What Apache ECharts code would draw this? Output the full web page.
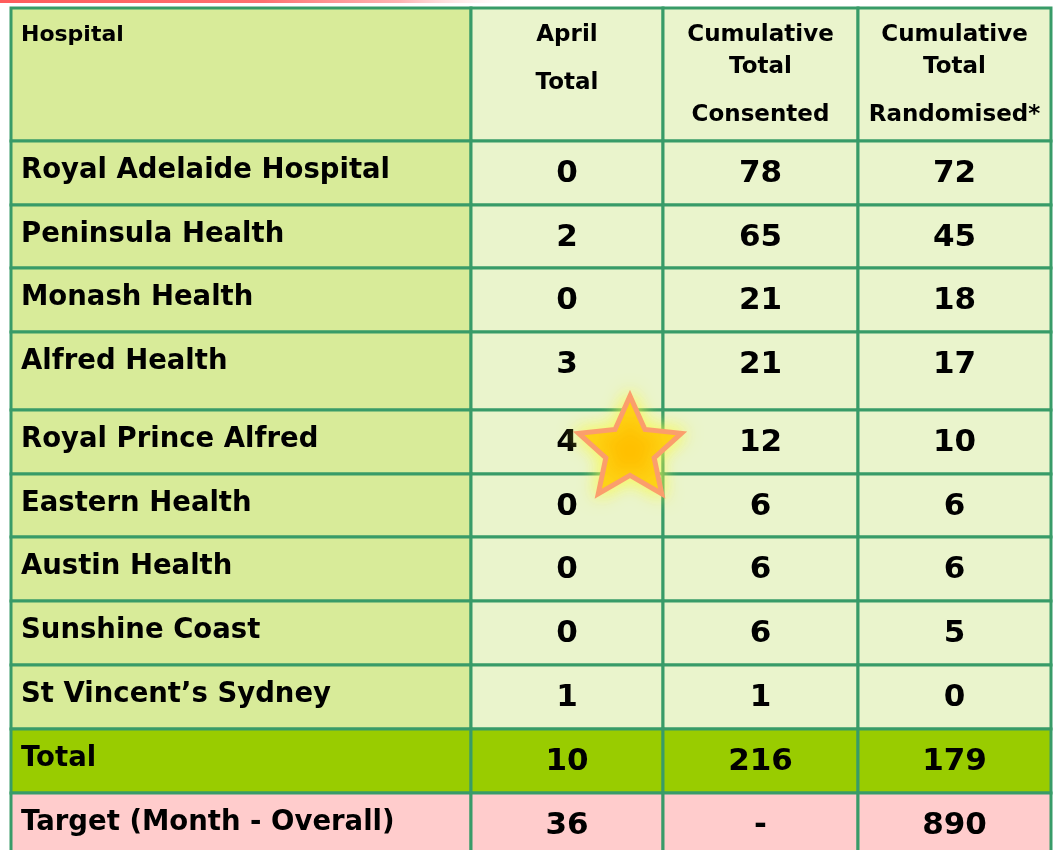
<!DOCTYPE html>
<html>
<head>
<meta charset="utf-8">
<script src="https://cdn.jsdelivr.net/npm/echarts@6/dist/echarts.min.js"></script>
<style>
  html, body { margin: 0; padding: 0; background: #fff; }
  #main { width: 1054px; height: 850px; }
</style>
</head>
<body>
<div id="main"></div>
<script>
// table data
var headers = ['Hospital', 'April\n\n\nTotal', 'Cumulative\n\nTotal\n\n\nConsented', 'Cumulative\n\nTotal\n\n\nRandomised*'];
var hospitals = ['Royal Adelaide Hospital', 'Peninsula Health', 'Monash Health', 'Alfred Health',
    'Royal Prince Alfred', 'Eastern Health', 'Austin Health', 'Sunshine Coast', 'St Vincent\u2019s Sydney'];
var aprilTotal = [0, 2, 0, 3, 4, 0, 0, 0, 1];
var cumConsented = [78, 65, 21, 21, 12, 6, 6, 6, 1];
var cumRandomised = [72, 45, 18, 17, 10, 6, 6, 5, 0];
var totalRow = ['Total', 10, 216, 179];
var targetRow = ['Target (Month - Overall)', 36, '-', 890];
var starCell = [1, 'Royal Prince Alfred'];

// layout (pixels of table space)
var colEdges = [0, 460, 652, 847, 1040];
var rowEdges = [0, 133, 197, 260, 324, 402, 466, 529, 593, 657, 721, 785, 849];
var FONT = 'DejaVu Sans';
var LINE = 16;

var fills = {
    head0: '#d8eb99', head: '#eaf4cc',
    body0: '#d8eb99', body: '#eaf4cc',
    total: '#99cc00', target: '#ffcccc'
};

var cells = [];
headers.forEach(function (h, c) {
    cells.push([c, 0, h, c === 0 ? 'head0' : 'head']);
});
hospitals.forEach(function (name, i) {
    var r = i + 1;
    cells.push([0, r, name, 'body0']);
    cells.push([1, r, String(aprilTotal[i]), 'body']);
    cells.push([2, r, String(cumConsented[i]), 'body']);
    cells.push([3, r, String(cumRandomised[i]), 'body']);
});
[totalRow, targetRow].forEach(function (row, k) {
    var r = hospitals.length + 1 + k;
    row.forEach(function (v, c) {
        cells.push([c, r, String(v), k === 0 ? 'total' : 'target']);
    });
});

function renderCell(params, api) {
    var c = api.value(0), r = api.value(1);
    var item = cells[params.dataIndex];
    var p0 = api.coord([colEdges[c], rowEdges[r]]);
    var p1 = api.coord([colEdges[c + 1], rowEdges[r + 1]]);
    var x = p0[0], y = p0[1], w = p1[0] - p0[0], h = p1[1] - p0[1];
    var kind = item[3];
    var children = [{
        type: 'rect',
        shape: { x: x, y: y, width: w, height: h },
        style: { fill: fills[kind], stroke: '#389b68', lineWidth: 3 }
    }];
    if (r === 0) {
        item[2].split('\n').forEach(function (line, k) {
            if (!line) return;
            children.push({
                type: 'text',
                style: {
                    text: line,
                    x: c === 0 ? x + 10 : x + w / 2,
                    y: y + 27 + k * LINE,
                    align: c === 0 ? 'left' : 'center',
                    verticalAlign: 'middle',
                    font: (c === 0 ? 'bold 22px "' : 'bold 23px "') + FONT + '"',
                    fill: '#000'
                }
            });
        });
    } else {
        children.push({
            type: 'text',
            style: {
                text: item[2],
                x: c === 0 ? x + 10 : x + w / 2,
                y: c === 0 ? y + 30 : y + 33,
                align: c === 0 ? 'left' : 'center',
                verticalAlign: 'middle',
                font: c === 0 ? 'bold 27.5px "' + FONT + '"' : 'bold 31px "' + FONT + '"',
                fill: '#000'
            }
        });
    }
    return { type: 'group', children: children };
}

function renderStar(params, api) {
    var r = hospitals.indexOf(starCell[1]) + 1;
    var p = api.coord([colEdges[starCell[0] + 1], rowEdges[r]]);
    var cx = p[0] - 33, cy = p[1] + 40, R = 54, ri = R * 0.47;
    var pts = [];
    for (var k = 0; k < 10; k++) {
        var a = -Math.PI / 2 + k * Math.PI / 5;
        var rad = k % 2 === 0 ? R : ri;
        pts.push([cx + rad * Math.cos(a), cy + rad * Math.sin(a)]);
    }
    return {
        type: 'polygon',
        shape: { points: pts },
        style: {
            fill: '#ffc000', stroke: '#fb9e6c', lineWidth: 5, lineJoin: 'miter',
            shadowBlur: 18, shadowColor: 'rgba(250,250,70,0.95)'
        }
    };
}

var myChart = echarts.init(document.getElementById('main'));
var option = {
    animation: false,
    backgroundColor: '#ffffff',
    graphic: [{
        type: 'rect',
        left: 0, top: 0,
        shape: { width: 1054, height: 3 },
        style: {
            fill: new echarts.graphic.LinearGradient(0, 0, 1, 0, [
                { offset: 0, color: '#ff5c5c' },
                { offset: 0.25, color: '#ff7070' },
                { offset: 0.38, color: 'rgba(255,160,160,0.8)' },
                { offset: 0.5, color: 'rgba(255,255,255,0)' },
                { offset: 1, color: 'rgba(255,255,255,0)' }
            ])
        }
    }],
    grid: { left: 11, top: 8, right: 3, bottom: 0 },
    xAxis: { type: 'value', min: 0, max: 1040, show: false },
    yAxis: { type: 'value', min: 0, max: 842, inverse: true, show: false },
    series: [{
        type: 'custom',
        renderItem: renderCell,
        clip: false,
        data: cells.map(function (d) { return [d[0], d[1]]; })
    }, {
        type: 'custom',
        renderItem: renderStar,
        clip: false,
        z: 5,
        data: [[0, 0]]
    }]
};
myChart.setOption(option);
</script>
</body>
</html>
